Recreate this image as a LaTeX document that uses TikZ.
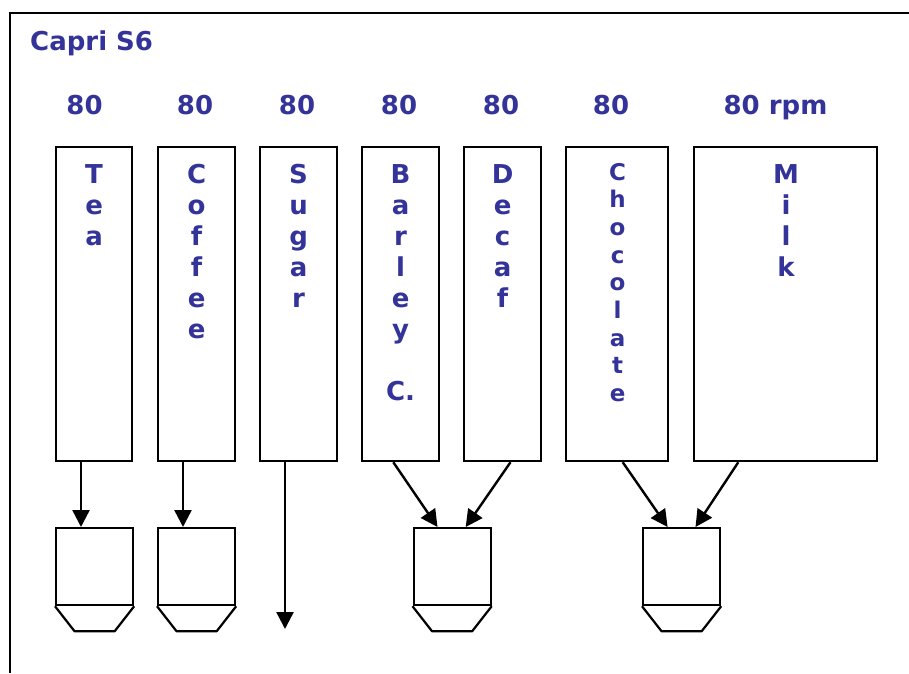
\documentclass[tikz,border=0pt]{standalone}
\usepackage{fontspec}
\setmainfont{DejaVu Sans}[BoldFont={DejaVu Sans Bold}]
\usetikzlibrary{arrows.meta,calc}
\definecolor{ink}{HTML}{333399}
\begin{document}
\begin{tikzpicture}[x=1pt,y=-1pt,
  bin/.style={draw,line width=2.2pt,minimum height=314pt,inner sep=0pt,anchor=north west},
  cup/.style={draw,line width=2.2pt,minimum width=77pt,minimum height=77pt,inner sep=0pt,anchor=north west},
  flow/.style={line width=2.4pt,-{Triangle[length=17pt,width=17pt]}},
  lbl/.style={text=ink,font=\fontsize{26}{31}\selectfont\bfseries,anchor=base,inner sep=0pt},
  small/.style={lbl,font=\fontsize{23}{27}\selectfont\bfseries},
  title/.style={lbl,anchor=base west}]
\useasboundingbox (0,0) rectangle (909,673);

% outer frame (only its left and top edges fall inside the page)
\draw[line width=2pt] (9.5,673) -- (9.5,12.5) -- (909,12.5);

% title and speeds
\node[title] (head) at (30,50) {Capri S6};
\node[lbl] (s1) at (84.5,114.5) {80};
\node[lbl] (s2) at (195,114.5) {80};
\node[lbl] (s3) at (297,114.5) {80};
\node[lbl] (s4) at (399,114.5) {80};
\node[lbl] (s5) at (501,114.5) {80};
\node[lbl] (s6) at (611,114.5) {80};
\node[lbl] (s7) at (775.5,114.5) {80 rpm};

% canisters
\node[bin,minimum width=76pt] (tea) at (55,146) {};
\node[bin,minimum width=77pt] (coffee) at (157,146) {};
\node[bin,minimum width=77pt] (sugar) at (259,146) {};
\node[bin,minimum width=77pt] (barley) at (361,146) {};
\node[bin,minimum width=77pt] (decaf) at (463,146) {};
\node[bin,minimum width=102pt] (choc) at (565,146) {};
\node[bin,minimum width=183pt] (milk) at (693,146) {};

% vertical names
\foreach \c [count=\i from 0] in {T,e,a}
  \node[lbl] (tea-\i) at ($(tea.north)+(0,37+31*\i)$) {\c};
\foreach \c [count=\i from 0] in {C,o,f,f,e,e}
  \node[lbl] (coffee-\i) at ($(coffee.north)+(0,37+31*\i)$) {\c};
\foreach \c [count=\i from 0] in {S,u,g,a,r}
  \node[lbl] (sugar-\i) at ($(sugar.north)+(0,37+31*\i)$) {\c};
\foreach \c [count=\i from 0] in {B,a,r,l,e,y,{},C.}
  \node[lbl] (barley-\i) at ($(barley.north)+(0,37+31*\i)$) {\c};
\foreach \c [count=\i from 0] in {D,e,c,a,f}
  \node[lbl] (decaf-\i) at ($(decaf.north)+(0,37+31*\i)$) {\c};
\foreach \c [count=\i from 0] in {C,h,o,c,o,l,a,t,e}
  \node[small] (choc-\i) at ($(choc.north)+(0.5,34+27.7*\i)$) {\c};
\foreach \c [count=\i from 0] in {M,i,l,k}
  \node[lbl] (milk-\i) at ($(milk.north)+(0.5,37+31*\i)$) {\c};

% mixing cups with their funnel bottoms
\foreach \n/\x in {teacup/55,coffeecup/157,barleycup/412.5,choccup/642}{
  \node[cup] (\n) at (\x,527) {};
  \draw[line width=2.2pt,line join=round] (\n.south west) -- ++(19.5,25) -- ($(\n.south east)+(-19.5,25)$) -- (\n.south east);
}
\coordinate (sugarout) at (285,629);

% feed lines
\draw[flow] ($(tea.south west)+(26,0)$) -- ($(teacup.north west)+(26,0)$);
\draw[flow] ($(coffee.south west)+(26,0)$) -- ($(coffeecup.north west)+(26,0)$);
\draw[flow] ($(sugar.south west)+(26,0)$) -- (sugarout);
\draw[flow] ($(barley.south west)+(32.3,0)$) -- ($(barleycup.north west)+(25,0)$);
\draw[flow] ($(decaf.south east)+(-31.7,0)$) -- ($(barleycup.north east)+(-26,0)$);
\draw[flow] ($(choc.south west)+(57.7,0)$) -- ($(choccup.north west)+(25.6,0)$);
\draw[flow] ($(milk.south west)+(45.3,0)$) -- ($(choccup.north east)+(-25.7,0)$);
\end{tikzpicture}
\end{document}
